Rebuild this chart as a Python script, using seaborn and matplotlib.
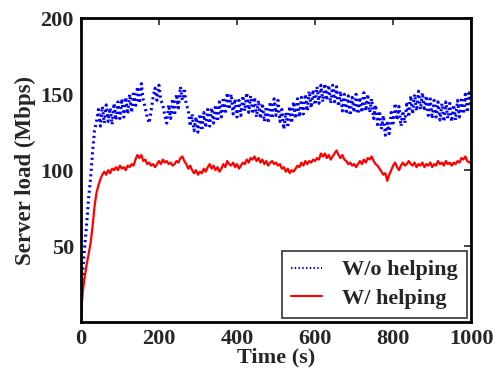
import numpy as np
import pandas as pd
import matplotlib
matplotlib.use('Agg')
import matplotlib.pyplot as plt
import seaborn as sns

# time axis, one reading every 5 s
time_s = list(range(0, 1001, 5))

without_helping = [
    2, 34, 50, 65, 82, 95, 112, 126, 132,
    140, 129, 142, 131, 143, 132, 141, 130, 144, 133, 145,
    134, 147, 135, 148, 137, 150, 138, 152, 141, 155,
    144, 157, 146, 141, 135, 131, 139, 148, 154, 146,
    156, 146, 143, 136, 131, 143, 134, 147, 136, 150,
    141, 155, 146, 154, 143, 140, 129, 137, 126, 135,
    125, 137, 126, 138, 128, 140, 129, 141, 131, 143,
    132, 145, 135, 148, 137, 151, 140, 150, 137, 147,
    135, 146, 136, 149, 139, 151, 138, 149, 137, 148,
    135, 146, 134, 144, 132, 142, 131, 145, 134, 147,
    136, 146, 132, 140, 127, 138, 128, 142, 131, 145,
    134, 147, 135, 148, 137, 150, 139, 152, 141, 153,
    143, 155, 144, 156, 145, 157, 146, 156, 144, 156,
    145, 155, 142, 152, 139, 150, 137, 149, 136, 148,
    138, 150, 137, 148, 138, 151, 139, 150, 138, 147,
    134, 143, 130, 139, 127, 136, 123, 131, 124, 138,
    131, 144, 133, 142, 129, 139, 131, 145, 135, 149,
    137, 150, 139, 152, 140, 151, 139, 149, 136, 147,
    134, 146, 135, 145, 133, 144, 132, 145, 134, 144,
    132, 143, 133, 146, 135, 148, 137, 150, 138, 151,
    141,
]

with_helping = [
    5, 20, 30, 38, 45, 52, 63, 76, 85, 90,
    94, 97, 99, 97, 100, 98, 101, 100, 102, 100,
    103, 101, 102, 100, 103, 102, 104, 103, 107, 110,
    108, 110, 106, 107, 104, 105, 103, 104, 102, 104,
    106, 104, 107, 105, 106, 104, 105, 103, 104, 106,
    105, 108, 109, 106, 104, 101, 103, 100, 98, 100,
    97, 99, 98, 101, 99, 102, 104, 101, 103, 100,
    102, 99, 101, 104, 102, 106, 104, 103, 105, 102,
    104, 101, 103, 105, 104, 107, 105, 108, 107, 109,
    106, 108, 105, 107, 104, 106, 103, 105, 106, 104,
    105, 103, 104, 101, 102, 99, 101, 98, 100, 99,
    101, 103, 102, 105, 103, 106, 104, 106, 105, 107,
    106, 108, 107, 111, 109, 111, 108, 110, 107, 109,
    111, 113, 110, 108, 110, 107, 106, 104, 105, 103,
    104, 102, 104, 106, 104, 107, 105, 108, 107, 109,
    106, 104, 103, 101, 99, 97, 98, 93, 97, 100,
    103, 105, 102, 100, 103, 105, 103, 104, 106, 104,
    103, 105, 102, 104, 103, 105, 102, 104, 103, 105,
    102, 104, 103, 106, 104, 105, 103, 106, 104, 105,
    103, 105, 104, 106, 105, 108, 107, 109, 106, 105,
    106,
]

df = pd.concat([
    pd.DataFrame({'time': time_s, 'load': without_helping, 'case': 'W/o helping'}),
    pd.DataFrame({'time': time_s, 'load': with_helping, 'case': 'W/ helping'}),
], ignore_index=True)

sns.set_style('white')
plt.rcParams['font.family'] = ['Liberation Serif', 'DejaVu Serif']
plt.rcParams['font.weight'] = 'bold'
plt.rcParams['axes.labelweight'] = 'bold'

fig = plt.figure(figsize=(4.96, 3.74), dpi=100)
ax = fig.add_axes([0.163, 0.139, 0.787, 0.812])

sns.lineplot(data=df, x='time', y='load', hue='case', style='case',
             palette={'W/o helping': 'blue', 'W/ helping': 'red'},
             dashes={'W/o helping': (0.7, 1.1), 'W/ helping': ''},
             ax=ax)
for line in ax.lines:
    if line.get_color() in ('blue', 'b'):
        line.set_linewidth(2.2)
    else:
        line.set_linewidth(1.6)

ax.set_xlim(0, 1000)
ax.set_ylim(0, 200)
ax.set_xticks([0, 200, 400, 600, 800, 1000])
ax.set_yticks([50, 100, 150, 200])
ax.set_xlabel('Time (s)', fontsize=16, labelpad=-1)
ax.set_ylabel('Server load (Mbps)', fontsize=16.5, labelpad=3)
ax.tick_params(axis='both', direction='in', length=5, width=1.2,
               labelsize=16, top=True, right=True, pad=5)
for s in ax.spines.values():
    s.set_visible(True)
    s.set_color('black')
    s.set_linewidth(2.0)

leg = ax.legend(loc='lower right', fontsize=16, frameon=True, fancybox=False,
                handlelength=1.4, handletextpad=0.9, borderpad=0.4,
                labelspacing=0.35, borderaxespad=0.2)
leg.get_frame().set_edgecolor('black')
leg.get_frame().set_linewidth(1.2)
for h in leg.get_lines():
    h.set_linewidth(1.5)

fig.savefig('out.png', dpi=100)
